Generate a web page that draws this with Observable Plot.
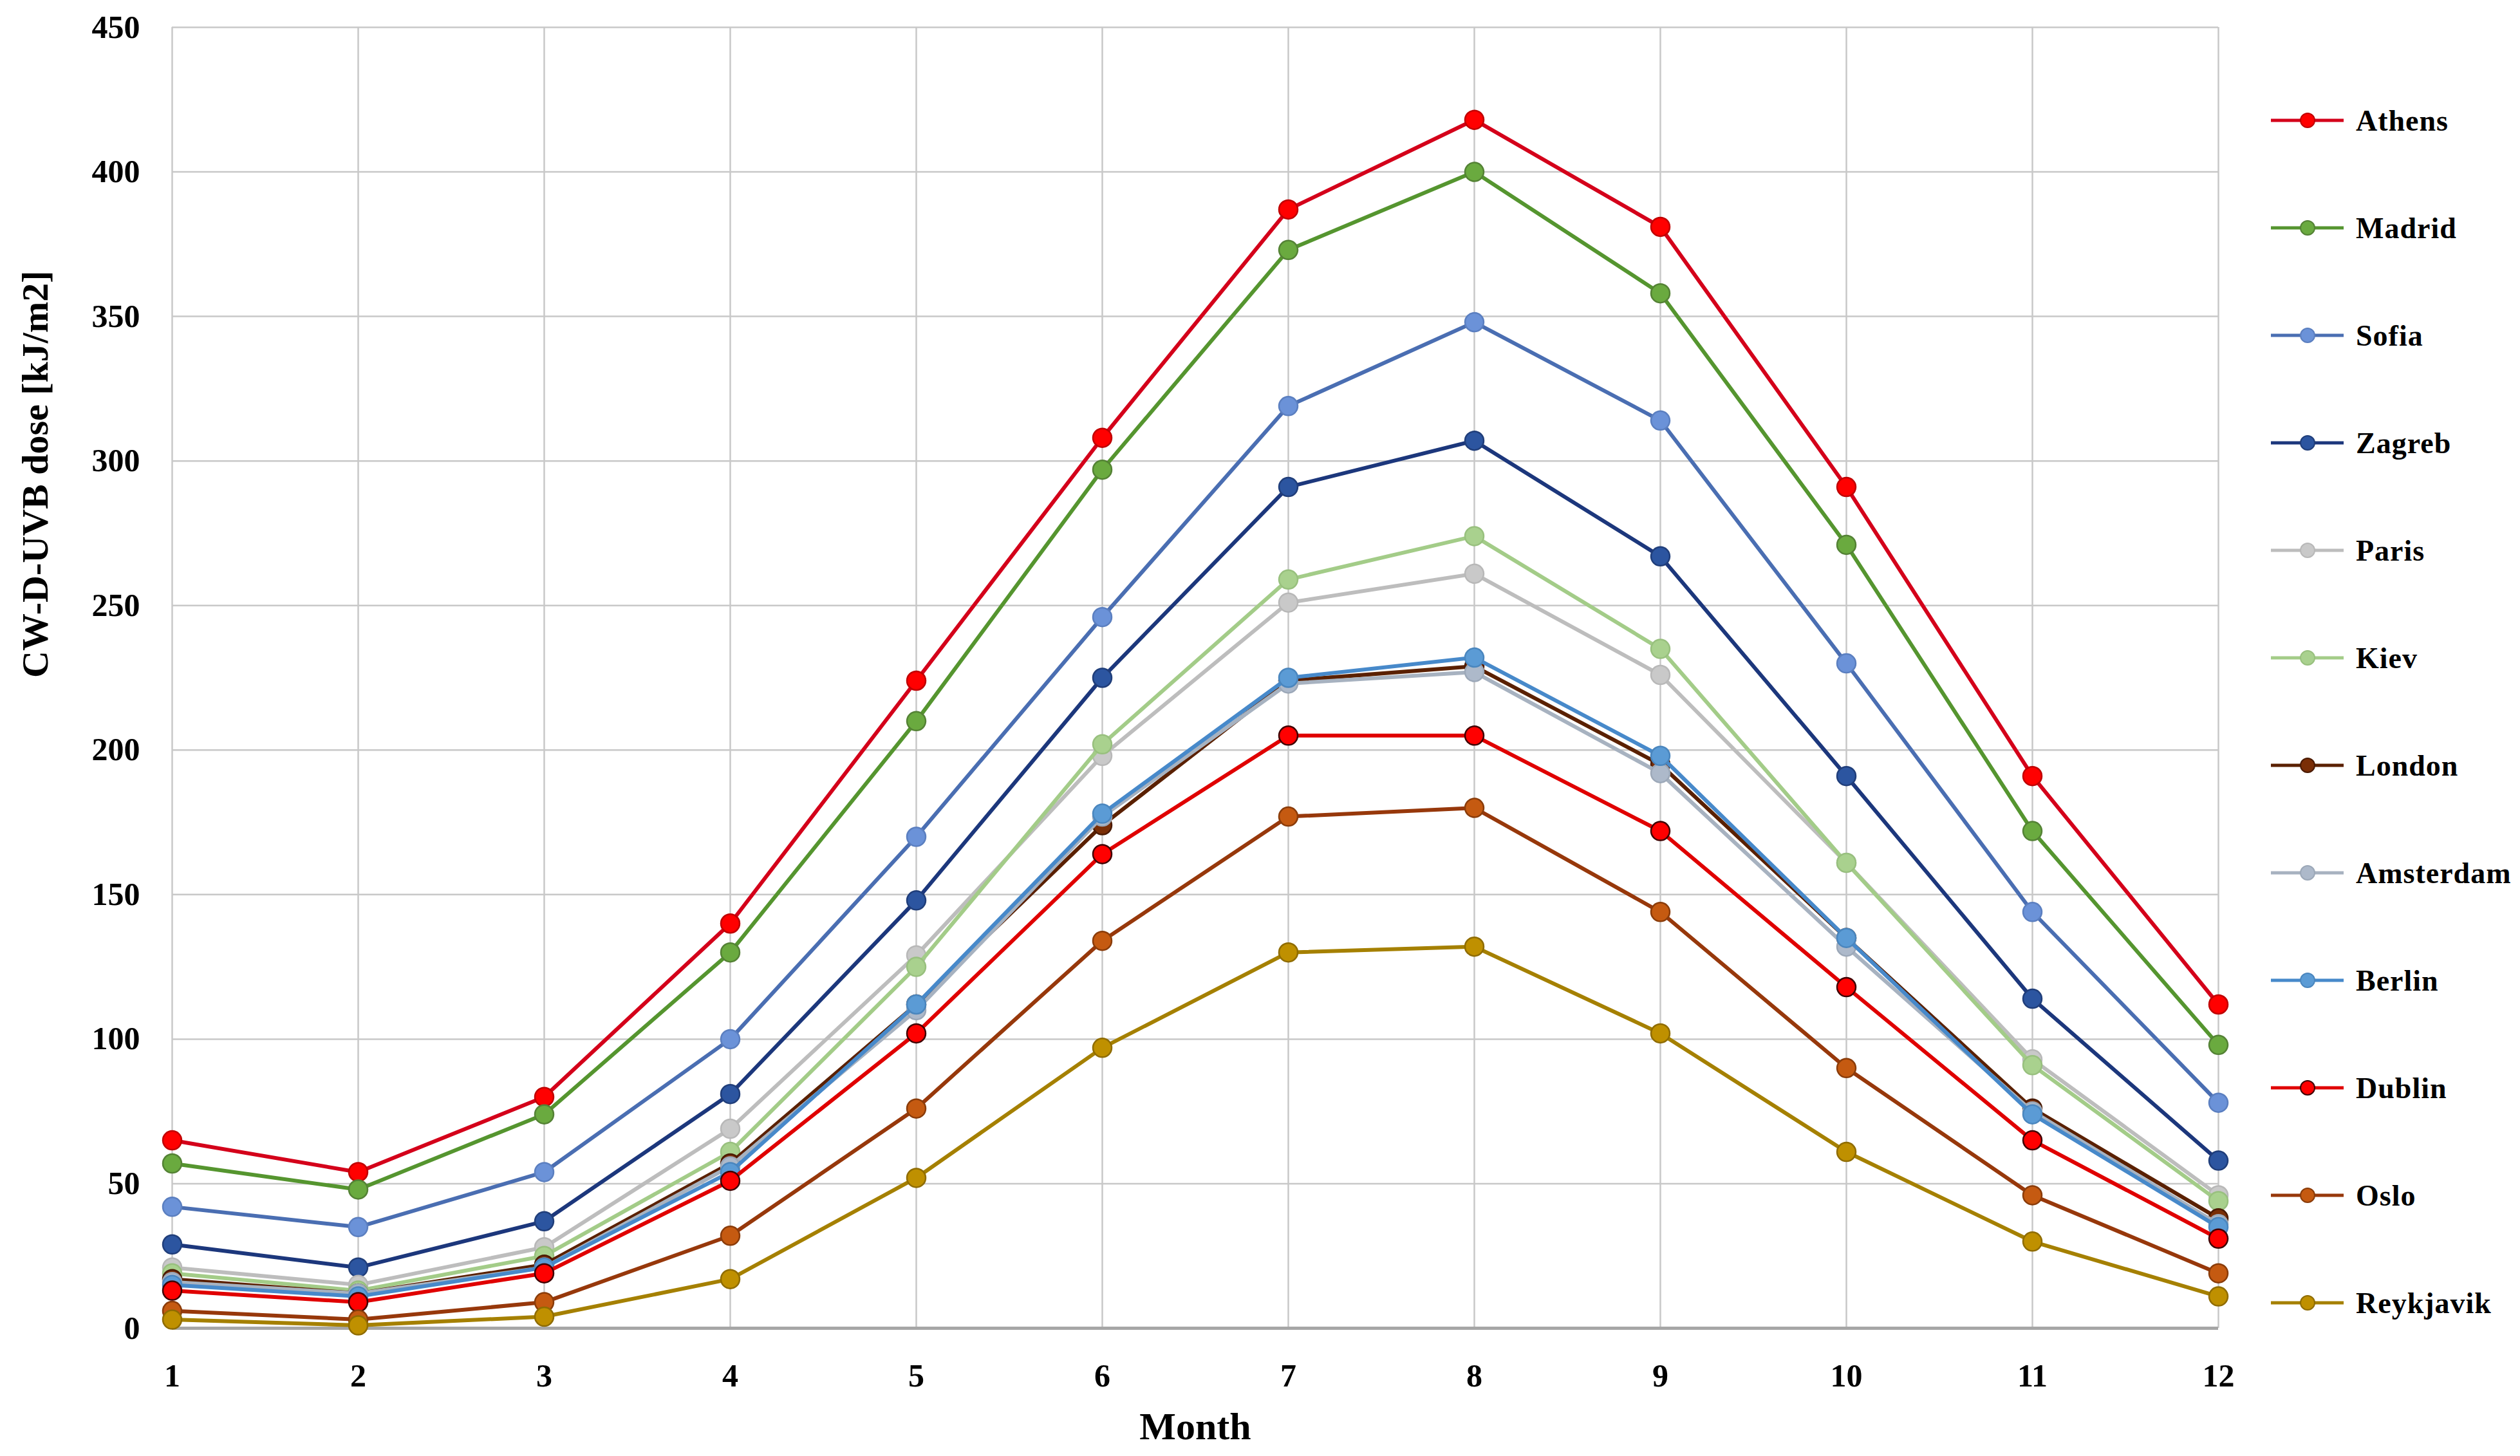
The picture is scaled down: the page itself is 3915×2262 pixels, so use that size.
<!DOCTYPE html>
<html><head><meta charset="utf-8">
<script src="https://cdn.jsdelivr.net/npm/d3@7"></script>
<script src="https://cdn.jsdelivr.net/npm/@observablehq/plot@0.6"></script>
<style>
html,body{margin:0;padding:0;background:#fff;}
#wrap{position:relative;width:3915px;height:2262px;background:#fff;}
#legend{position:absolute;left:0;top:0;width:3915px;height:2262px;pointer-events:none;}
.item{position:absolute;left:3528px;height:40px;display:flex;align-items:center;font-family:"Liberation Serif",serif;font-weight:bold;font-size:46px;color:#000;letter-spacing:1px;}
.item svg{margin-right:19px;}
</style></head>
<body><div id="wrap"><div id="legend"></div></div>
<script>
const months = [1, 2, 3, 4, 5, 6, 7, 8, 9, 10, 11, 12];
const yTicks = [0, 50, 100, 150, 200, 250, 300, 350, 400, 450];
const cities = ["Athens", "Madrid", "Sofia", "Zagreb", "Paris", "Kiev", "London", "Amsterdam", "Berlin", "Dublin", "Oslo", "Reykjavik"];

const athens    = [65, 54, 80, 140, 224, 308, 387, 418, 381, 291, 191, 112];
const madrid    = [57, 48, 74, 130, 210, 297, 373, 400, 358, 271, 172, 98];
const sofia     = [42, 35, 54, 100, 170, 246, 319, 348, 314, 230, 144, 78];
const zagreb    = [29, 21, 37, 81, 148, 225, 291, 307, 267, 191, 114, 58];
const paris     = [21, 15, 28, 69, 129, 198, 251, 261, 226, 161, 93, 46];
const kiev      = [19, 13, 25, 61, 125, 202, 259, 274, 235, 161, 91, 44];
const london    = [17, 12, 22, 57, 112, 174, 224, 229, 195, 135, 76, 38];
const amsterdam = [16, 12, 21, 56, 110, 177, 223, 227, 192, 132, 75, 36];
const berlin    = [15, 11, 21, 54, 112, 178, 225, 232, 198, 135, 74, 35];
const dublin    = [13, 9, 19, 51, 102, 164, 205, 205, 172, 118, 65, 31];
const oslo      = [6, 3, 9, 32, 76, 134, 177, 180, 144, 90, 46, 19];
const reykjavik = [3, 1, 4, 17, 52, 97, 130, 132, 102, 61, 30, 11];

const seriesValues = [athens, madrid, sofia, zagreb, paris, kiev, london, amsterdam, berlin, dublin, oslo, reykjavik];
const lineColors   = ["#D4001A", "#55952F", "#4A6EB2", "#1C377C", "#BDBDBD", "#A3CC88", "#5A2000", "#A7B2C0", "#4789CA", "#E00000", "#97380B", "#A58000"];
const markerFills  = ["#FF0000", "#6AAA3F", "#6B92D8", "#2C55A0", "#C9C9C9", "#A9D18E", "#7A2E06", "#ADB9CA", "#5B9BD5", "#FF0000", "#C55A11", "#BF9000"];
const markerStrokes= ["#C00000", "#548235", "#5B7FC0", "#203E7A", "#B8B8B8", "#98C07E", "#4A1A00", "#9CA8B8", "#4A86BE", "#400000", "#8A3C0A", "#8F6C00"];

const yTitle = "CW-D-UVB dose [kJ/m2]";
const xTitle = "Month";

const seriesMarks = [];
cities.forEach((c, i) => {
  const rows = months.map((m, j) => ({month: m, value: seriesValues[i][j], city: c}));
  seriesMarks.push(Plot.line(rows, {x: "month", y: "value", stroke: lineColors[i], strokeWidth: 6}));
  seriesMarks.push(Plot.dot(rows, {x: "month", y: "value", r: 14.5, fill: markerFills[i], stroke: markerStrokes[i], strokeWidth: 2.5}));
});

const chart = Plot.plot({
  width: 3915,
  height: 2262,
  marginLeft: 267,
  marginRight: 469,
  marginTop: 42,
  marginBottom: 199,
  style: {fontFamily: "'Liberation Serif', serif", fontWeight: "bold", fontSize: "50px", color: "#000", background: "#fff", overflow: "visible"},
  x: {domain: [1, 12]},
  y: {domain: [0, 450]},
  marks: [
    Plot.gridX(months, {stroke: "#C8C8C8", strokeOpacity: 1, strokeWidth: 2.5}),
    Plot.gridY(yTicks, {stroke: "#C8C8C8", strokeOpacity: 1, strokeWidth: 2.5}),
    Plot.ruleY([0], {stroke: "#A6A6A6", strokeWidth: 5}),
    Plot.axisX(months, {tickSize: 0, tickPadding: 55, fontSize: 50, label: null, tickFormat: d => String(d)}),
    Plot.axisY(yTicks, {tickSize: 0, tickPadding: 50, fontSize: 50, label: null}),
    Plot.text([xTitle], {frameAnchor: "bottom", dy: 172, fontSize: 60, fontWeight: "bold"}),
    Plot.text([yTitle], {frameAnchor: "left", dx: -212, rotate: -90, fontSize: 58, fontWeight: "bold"}),
    ...seriesMarks
  ]
});
document.getElementById("wrap").prepend(chart);

const legend = document.getElementById("legend");
cities.forEach((c, i) => {
  const item = document.createElement("div");
  item.className = "item";
  item.style.top = (187 + i * 167 - 20) + "px";
  const ns = "http://www.w3.org/2000/svg";
  const svg = document.createElementNS(ns, "svg");
  svg.setAttribute("width", "113");
  svg.setAttribute("height", "40");
  const ln = document.createElementNS(ns, "line");
  ln.setAttribute("x1", "0"); ln.setAttribute("x2", "113");
  ln.setAttribute("y1", "20"); ln.setAttribute("y2", "20");
  ln.setAttribute("stroke", lineColors[i]); ln.setAttribute("stroke-width", "5");
  const cc = document.createElementNS(ns, "circle");
  cc.setAttribute("cx", "57"); cc.setAttribute("cy", "20"); cc.setAttribute("r", "11");
  cc.setAttribute("fill", markerFills[i]); cc.setAttribute("stroke", markerStrokes[i]); cc.setAttribute("stroke-width", "2");
  svg.appendChild(ln); svg.appendChild(cc);
  const span = document.createElement("span");
  span.textContent = c;
  item.appendChild(svg); item.appendChild(span);
  legend.appendChild(item);
});
</script>
</body></html>
